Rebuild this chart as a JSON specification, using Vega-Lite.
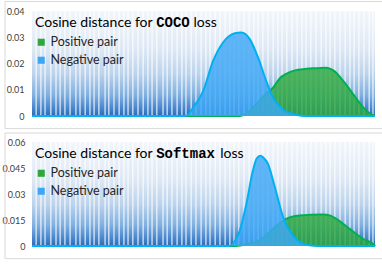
{
  "$schema": "https://vega.github.io/schema/vega-lite/v6.json",
  "padding": {"left": 1, "top": 1, "right": 1, "bottom": 3},
  "spacing": 26,
  "bounds": "flush",
  "config": {"view": {"stroke": null}, "font": "Lato", "axis": {"zindex": 1, "labelOverlap": false}},
  "datasets": {
    "curves": [
      {"panel": "COCO", "series": "Negative pair", "x": 0, "y": 0},
      {"panel": "COCO", "series": "Negative pair", "x": 0.449, "y": 0},
      {"panel": "COCO", "series": "Negative pair", "x": 0.469, "y": 0.003},
      {"panel": "COCO", "series": "Negative pair", "x": 0.499, "y": 0.0095},
      {"panel": "COCO", "series": "Negative pair", "x": 0.528, "y": 0.021},
      {"panel": "COCO", "series": "Negative pair", "x": 0.557, "y": 0.028},
      {"panel": "COCO", "series": "Negative pair", "x": 0.591, "y": 0.0315},
      {"panel": "COCO", "series": "Negative pair", "x": 0.61, "y": 0.0318},
      {"panel": "COCO", "series": "Negative pair", "x": 0.635, "y": 0.0293},
      {"panel": "COCO", "series": "Negative pair", "x": 0.659, "y": 0.0223},
      {"panel": "COCO", "series": "Negative pair", "x": 0.683, "y": 0.0133},
      {"panel": "COCO", "series": "Negative pair", "x": 0.703, "y": 0.007},
      {"panel": "COCO", "series": "Negative pair", "x": 0.732, "y": 0.0025},
      {"panel": "COCO", "series": "Negative pair", "x": 0.77, "y": 0.0005},
      {"panel": "COCO", "series": "Negative pair", "x": 0.799, "y": 0},
      {"panel": "COCO", "series": "Negative pair", "x": 1, "y": 0},
      {"panel": "COCO", "series": "Positive pair", "x": 0, "y": 0},
      {"panel": "COCO", "series": "Positive pair", "x": 0.606, "y": 0},
      {"panel": "COCO", "series": "Positive pair", "x": 0.63, "y": 0.0015},
      {"panel": "COCO", "series": "Positive pair", "x": 0.654, "y": 0.0044},
      {"panel": "COCO", "series": "Positive pair", "x": 0.68, "y": 0.0082},
      {"panel": "COCO", "series": "Positive pair", "x": 0.703, "y": 0.0108},
      {"panel": "COCO", "series": "Positive pair", "x": 0.722, "y": 0.0143},
      {"panel": "COCO", "series": "Positive pair", "x": 0.74, "y": 0.016},
      {"panel": "COCO", "series": "Positive pair", "x": 0.761, "y": 0.0172},
      {"panel": "COCO", "series": "Positive pair", "x": 0.8, "y": 0.018},
      {"panel": "COCO", "series": "Positive pair", "x": 0.83, "y": 0.0182},
      {"panel": "COCO", "series": "Positive pair", "x": 0.858, "y": 0.0184},
      {"panel": "COCO", "series": "Positive pair", "x": 0.873, "y": 0.0178},
      {"panel": "COCO", "series": "Positive pair", "x": 0.887, "y": 0.0165},
      {"panel": "COCO", "series": "Positive pair", "x": 0.9, "y": 0.0145},
      {"panel": "COCO", "series": "Positive pair", "x": 0.916, "y": 0.012},
      {"panel": "COCO", "series": "Positive pair", "x": 0.935, "y": 0.0085},
      {"panel": "COCO", "series": "Positive pair", "x": 0.955, "y": 0.005},
      {"panel": "COCO", "series": "Positive pair", "x": 0.975, "y": 0.002},
      {"panel": "COCO", "series": "Positive pair", "x": 0.994, "y": 0.0003},
      {"panel": "COCO", "series": "Positive pair", "x": 1, "y": 0},
      {"panel": "Softmax", "series": "Negative pair", "x": 0, "y": 0},
      {"panel": "Softmax", "series": "Negative pair", "x": 0.576, "y": 0},
      {"panel": "Softmax", "series": "Negative pair", "x": 0.592, "y": 0.003},
      {"panel": "Softmax", "series": "Negative pair", "x": 0.606, "y": 0.009},
      {"panel": "Softmax", "series": "Negative pair", "x": 0.625, "y": 0.0243},
      {"panel": "Softmax", "series": "Negative pair", "x": 0.644, "y": 0.0435},
      {"panel": "Softmax", "series": "Negative pair", "x": 0.655, "y": 0.0505},
      {"panel": "Softmax", "series": "Negative pair", "x": 0.666, "y": 0.052},
      {"panel": "Softmax", "series": "Negative pair", "x": 0.677, "y": 0.0505},
      {"panel": "Softmax", "series": "Negative pair", "x": 0.688, "y": 0.0474},
      {"panel": "Softmax", "series": "Negative pair", "x": 0.708, "y": 0.034},
      {"panel": "Softmax", "series": "Negative pair", "x": 0.732, "y": 0.0167},
      {"panel": "Softmax", "series": "Negative pair", "x": 0.761, "y": 0.006},
      {"panel": "Softmax", "series": "Negative pair", "x": 0.79, "y": 0.0013},
      {"panel": "Softmax", "series": "Negative pair", "x": 0.82, "y": 0.0002},
      {"panel": "Softmax", "series": "Negative pair", "x": 0.848, "y": 0},
      {"panel": "Softmax", "series": "Negative pair", "x": 1, "y": 0},
      {"panel": "Softmax", "series": "Positive pair", "x": 0, "y": 0},
      {"panel": "Softmax", "series": "Positive pair", "x": 0.595, "y": 0},
      {"panel": "Softmax", "series": "Positive pair", "x": 0.63, "y": 0.0012},
      {"panel": "Softmax", "series": "Positive pair", "x": 0.664, "y": 0.0032},
      {"panel": "Softmax", "series": "Positive pair", "x": 0.703, "y": 0.0099},
      {"panel": "Softmax", "series": "Positive pair", "x": 0.741, "y": 0.0157},
      {"panel": "Softmax", "series": "Positive pair", "x": 0.78, "y": 0.0176},
      {"panel": "Softmax", "series": "Positive pair", "x": 0.848, "y": 0.0182},
      {"panel": "Softmax", "series": "Positive pair", "x": 0.87, "y": 0.0175},
      {"panel": "Softmax", "series": "Positive pair", "x": 0.887, "y": 0.0157},
      {"panel": "Softmax", "series": "Positive pair", "x": 0.926, "y": 0.0099},
      {"panel": "Softmax", "series": "Positive pair", "x": 0.965, "y": 0.0042},
      {"panel": "Softmax", "series": "Positive pair", "x": 0.999, "y": 0.0003},
      {"panel": "Softmax", "series": "Positive pair", "x": 1, "y": 0}
    ],
    "stripes": [
      {"x": 0.012}, {"x": 0.026}, {"x": 0.038}, {"x": 0.055}, {"x": 0.07}, {"x": 0.082}, {"x": 0.096}, {"x": 0.111}, {"x": 0.128}, {"x": 0.14},
      {"x": 0.155}, {"x": 0.169}, {"x": 0.181}, {"x": 0.195}, {"x": 0.213}, {"x": 0.224}, {"x": 0.239}, {"x": 0.254}, {"x": 0.268}, {"x": 0.28},
      {"x": 0.294}, {"x": 0.309}, {"x": 0.324}, {"x": 0.338}, {"x": 0.35}, {"x": 0.364}, {"x": 0.382}, {"x": 0.394}, {"x": 0.408}, {"x": 0.423},
      {"x": 0.437}, {"x": 0.449}, {"x": 0.464}, {"x": 0.478}, {"x": 0.493}, {"x": 0.507}, {"x": 0.519}, {"x": 0.534}, {"x": 0.548}, {"x": 0.563},
      {"x": 0.577}, {"x": 0.589}, {"x": 0.603}, {"x": 0.618}, {"x": 0.633}, {"x": 0.647}, {"x": 0.659}, {"x": 0.673}, {"x": 0.688}, {"x": 0.703},
      {"x": 0.717}, {"x": 0.729}, {"x": 0.743}, {"x": 0.758}, {"x": 0.773}, {"x": 0.787}, {"x": 0.799}, {"x": 0.813}, {"x": 0.828}, {"x": 0.843},
      {"x": 0.857}, {"x": 0.869}, {"x": 0.883}, {"x": 0.898}, {"x": 0.913}, {"x": 0.927}, {"x": 0.939}, {"x": 0.953}, {"x": 0.968}, {"x": 0.983}, {"x": 0.994}
    ]
  },
  "resolve": {"scale": {"x": "independent", "y": "independent", "fill": "independent"}, "legend": {"fill": "independent"}},
  "vconcat": [
    {
      "width": 343,
      "height": 105,
      "layer": [
        {
          "data": {"values": [{}]},
          "mark": {"type": "rect", "clip": false, "filled": false, "stroke": "#d9d9d9", "strokeWidth": 1},
          "encoding": {
            "x": {"datum": -0.0787, "type": "quantitative", "scale": {"domain": [0, 1]}, "axis": null},
            "x2": {"datum": 1.0233},
            "y": {"datum": -0.0048, "type": "quantitative", "scale": {"domain": [0, 0.04]},
                  "axis": {"values": [0, 0.01, 0.02, 0.03, 0.04], "labelExpr": "format(datum.value, '~g')", "ticks": false, "domain": false, "grid": false, "labelPadding": 8, "labelFontSize": 9, "labelColor": "#404040", "labelFont": "Lato", "title": null, "labelOverlap": false}},
            "y2": {"datum": 0.0436}
          }
        },
        {
          "data": {"values": [{}]},
          "mark": {"type": "rect", "fill": {"gradient": "linear", "x1": 0, "y1": 0, "x2": 0, "y2": 1, "stops": [{"offset": 0, "color": "#f2f6fb"}, {"offset": 0.35, "color": "#dfe9f5"}, {"offset": 0.6, "color": "#bcd3ec"}, {"offset": 0.8, "color": "#80b0e0"}, {"offset": 0.92, "color": "#4a88cf"}, {"offset": 1, "color": "#2a6cb8"}]}},
          "encoding": {"x": {"datum": 0, "type": "quantitative"}, "x2": {"datum": 1}, "y": {"datum": 0, "type": "quantitative", "axis": {"values": [0, 0.01, 0.02, 0.03, 0.04], "labelExpr": "format(datum.value, '~g')", "ticks": false, "domain": false, "grid": false, "labelPadding": 8, "labelFontSize": 9, "labelColor": "#404040", "labelFont": "Lato", "title": null, "labelOverlap": false}}, "y2": {"datum": 0.04}}
        },
        {
          "data": {"name": "stripes"},
          "mark": {"type": "rule", "color": "white", "strokeWidth": 1.2, "opacity": 0.85},
          "encoding": {"x": {"field": "x", "type": "quantitative"}, "y": {"datum": 0, "type": "quantitative", "axis": {"values": [0, 0.01, 0.02, 0.03, 0.04], "labelExpr": "format(datum.value, '~g')", "ticks": false, "domain": false, "grid": false, "labelPadding": 8, "labelFontSize": 9, "labelColor": "#404040", "labelFont": "Lato", "title": null, "labelOverlap": false}}, "y2": {"datum": 0.04}}
        },
        {
          "data": {"name": "curves"},
          "transform": [{"filter": "datum.panel === 'COCO' && datum.series === 'Positive pair'"}],
          "mark": {"type": "area", "interpolate": "monotone", "fillOpacity": 0.82},
          "encoding": {
            "x": {"field": "x", "type": "quantitative"},
            "y": {"field": "y", "type": "quantitative", "stack": null, "axis": {"values": [0, 0.01, 0.02, 0.03, 0.04], "labelExpr": "format(datum.value, '~g')", "ticks": false, "domain": false, "grid": false, "labelPadding": 8, "labelFontSize": 9, "labelColor": "#404040", "labelFont": "Lato", "title": null, "labelOverlap": false}},
            "fill": {"field": "series", "type": "nominal", "scale": {"domain": ["Positive pair", "Negative pair"], "range": ["#2ea83e", "#3ea7f5"]},
                     "legend": {"orient": "none", "legendX": 3, "legendY": 25, "title": null, "symbolType": "square", "symbolSize": 50, "symbolOpacity": 1, "labelFontSize": 12.5, "labelFont": "Lato", "labelColor": "#262626", "labelOffset": 3, "rowPadding": 5, "symbolStrokeWidth": 0}}
          }
        },
        {
          "data": {"name": "curves"},
          "transform": [{"filter": "datum.panel === 'COCO' && datum.series === 'Positive pair'"}],
          "mark": {"type": "line", "interpolate": "monotone", "stroke": "#00b050", "strokeWidth": 2},
          "encoding": {"x": {"field": "x", "type": "quantitative"}, "y": {"field": "y", "type": "quantitative", "axis": {"values": [0, 0.01, 0.02, 0.03, 0.04], "labelExpr": "format(datum.value, '~g')", "ticks": false, "domain": false, "grid": false, "labelPadding": 8, "labelFontSize": 9, "labelColor": "#404040", "labelFont": "Lato", "title": null, "labelOverlap": false}}}
        },
        {
          "data": {"name": "curves"},
          "transform": [{"filter": "datum.panel === 'COCO' && datum.series === 'Negative pair'"}],
          "mark": {"type": "area", "interpolate": "monotone", "fillOpacity": 0.82},
          "encoding": {
            "x": {"field": "x", "type": "quantitative"},
            "y": {"field": "y", "type": "quantitative", "stack": null, "axis": {"values": [0, 0.01, 0.02, 0.03, 0.04], "labelExpr": "format(datum.value, '~g')", "ticks": false, "domain": false, "grid": false, "labelPadding": 8, "labelFontSize": 9, "labelColor": "#404040", "labelFont": "Lato", "title": null, "labelOverlap": false}},
            "fill": {"field": "series", "type": "nominal"}
          }
        },
        {
          "data": {"name": "curves"},
          "transform": [{"filter": "datum.panel === 'COCO' && datum.series === 'Negative pair'"}],
          "mark": {"type": "line", "interpolate": "monotone", "stroke": "#00b0f0", "strokeWidth": 2},
          "encoding": {"x": {"field": "x", "type": "quantitative"}, "y": {"field": "y", "type": "quantitative", "axis": {"values": [0, 0.01, 0.02, 0.03, 0.04], "labelExpr": "format(datum.value, '~g')", "ticks": false, "domain": false, "grid": false, "labelPadding": 8, "labelFontSize": 9, "labelColor": "#404040", "labelFont": "Lato", "title": null, "labelOverlap": false}}}
        },
        {
          "data": {"values": [{}]},
          "mark": {"type": "text", "text": "Cosine distance for", "align": "left", "baseline": "middle", "font": "Lato", "fontSize": 14, "color": "#000000"},
          "encoding": {"x": {"datum": 0.0087, "type": "quantitative"}, "y": {"datum": 0.0354, "type": "quantitative", "axis": {"values": [0, 0.01, 0.02, 0.03, 0.04], "labelExpr": "format(datum.value, '~g')", "ticks": false, "domain": false, "grid": false, "labelPadding": 8, "labelFontSize": 9, "labelColor": "#404040", "labelFont": "Lato", "title": null, "labelOverlap": false}}}
        },
        {
          "data": {"values": [{}]},
          "mark": {"type": "text", "text": "COCO", "align": "left", "baseline": "middle", "font": "Liberation Mono", "fontWeight": "bold", "fontSize": 14, "color": "#000000"},
          "encoding": {"x": {"datum": 0.362, "type": "quantitative"}, "y": {"datum": 0.0354, "type": "quantitative", "axis": {"values": [0, 0.01, 0.02, 0.03, 0.04], "labelExpr": "format(datum.value, '~g')", "ticks": false, "domain": false, "grid": false, "labelPadding": 8, "labelFontSize": 9, "labelColor": "#404040", "labelFont": "Lato", "title": null, "labelOverlap": false}}}
        },
        {
          "data": {"values": [{}]},
          "mark": {"type": "text", "text": "loss", "align": "left", "baseline": "middle", "font": "Lato", "fontSize": 14, "color": "#000000"},
          "encoding": {"x": {"datum": 0.471, "type": "quantitative"}, "y": {"datum": 0.0354, "type": "quantitative", "axis": {"values": [0, 0.01, 0.02, 0.03, 0.04], "labelExpr": "format(datum.value, '~g')", "ticks": false, "domain": false, "grid": false, "labelPadding": 8, "labelFontSize": 9, "labelColor": "#404040", "labelFont": "Lato", "title": null, "labelOverlap": false}}}
        }
      ]
    },
    {
      "width": 343,
      "height": 104,
      "layer": [
        {
          "data": {"values": [{}]},
          "mark": {"type": "rect", "clip": false, "filled": false, "stroke": "#d9d9d9", "strokeWidth": 1},
          "encoding": {
            "x": {"datum": -0.0787, "type": "quantitative", "scale": {"domain": [0, 1]}, "axis": null},
            "x2": {"datum": 1.0233},
            "y": {"datum": -0.0073, "type": "quantitative", "scale": {"domain": [0, 0.06]},
                  "axis": {"values": [0, 0.015, 0.03, 0.045, 0.06], "labelExpr": "format(datum.value, '~g')", "ticks": false, "domain": false, "grid": false, "labelPadding": 7, "labelFontSize": 9, "labelColor": "#404040", "labelFont": "Lato", "title": null, "labelOverlap": false}},
            "y2": {"datum": 0.0652}
          }
        },
        {
          "data": {"values": [{}]},
          "mark": {"type": "rect", "fill": {"gradient": "linear", "x1": 0, "y1": 0, "x2": 0, "y2": 1, "stops": [{"offset": 0, "color": "#f2f6fb"}, {"offset": 0.35, "color": "#dfe9f5"}, {"offset": 0.6, "color": "#bcd3ec"}, {"offset": 0.8, "color": "#80b0e0"}, {"offset": 0.92, "color": "#4a88cf"}, {"offset": 1, "color": "#2a6cb8"}]}},
          "encoding": {"x": {"datum": 0, "type": "quantitative"}, "x2": {"datum": 1}, "y": {"datum": 0, "type": "quantitative", "axis": {"values": [0, 0.015, 0.03, 0.045, 0.06], "labelExpr": "format(datum.value, '~g')", "ticks": false, "domain": false, "grid": false, "labelPadding": 7, "labelFontSize": 9, "labelColor": "#404040", "labelFont": "Lato", "title": null, "labelOverlap": false}}, "y2": {"datum": 0.06}}
        },
        {
          "data": {"name": "stripes"},
          "mark": {"type": "rule", "color": "white", "strokeWidth": 1.2, "opacity": 0.85},
          "encoding": {"x": {"field": "x", "type": "quantitative"}, "y": {"datum": 0, "type": "quantitative", "axis": {"values": [0, 0.015, 0.03, 0.045, 0.06], "labelExpr": "format(datum.value, '~g')", "ticks": false, "domain": false, "grid": false, "labelPadding": 7, "labelFontSize": 9, "labelColor": "#404040", "labelFont": "Lato", "title": null, "labelOverlap": false}}, "y2": {"datum": 0.06}}
        },
        {
          "data": {"name": "curves"},
          "transform": [{"filter": "datum.panel === 'Softmax' && datum.series === 'Positive pair'"}],
          "mark": {"type": "area", "interpolate": "monotone", "fillOpacity": 0.82},
          "encoding": {
            "x": {"field": "x", "type": "quantitative"},
            "y": {"field": "y", "type": "quantitative", "stack": null, "axis": {"values": [0, 0.015, 0.03, 0.045, 0.06], "labelExpr": "format(datum.value, '~g')", "ticks": false, "domain": false, "grid": false, "labelPadding": 7, "labelFontSize": 9, "labelColor": "#404040", "labelFont": "Lato", "title": null, "labelOverlap": false}},
            "fill": {"field": "series", "type": "nominal", "scale": {"domain": ["Positive pair", "Negative pair"], "range": ["#2ea83e", "#3ea7f5"]},
                     "legend": {"orient": "none", "legendX": 3, "legendY": 25, "title": null, "symbolType": "square", "symbolSize": 50, "symbolOpacity": 1, "labelFontSize": 12.5, "labelFont": "Lato", "labelColor": "#262626", "labelOffset": 3, "rowPadding": 5, "symbolStrokeWidth": 0}}
          }
        },
        {
          "data": {"name": "curves"},
          "transform": [{"filter": "datum.panel === 'Softmax' && datum.series === 'Positive pair'"}],
          "mark": {"type": "line", "interpolate": "monotone", "stroke": "#00b050", "strokeWidth": 2},
          "encoding": {"x": {"field": "x", "type": "quantitative"}, "y": {"field": "y", "type": "quantitative", "axis": {"values": [0, 0.015, 0.03, 0.045, 0.06], "labelExpr": "format(datum.value, '~g')", "ticks": false, "domain": false, "grid": false, "labelPadding": 7, "labelFontSize": 9, "labelColor": "#404040", "labelFont": "Lato", "title": null, "labelOverlap": false}}}
        },
        {
          "data": {"name": "curves"},
          "transform": [{"filter": "datum.panel === 'Softmax' && datum.series === 'Negative pair'"}],
          "mark": {"type": "area", "interpolate": "monotone", "fillOpacity": 0.82},
          "encoding": {
            "x": {"field": "x", "type": "quantitative"},
            "y": {"field": "y", "type": "quantitative", "stack": null, "axis": {"values": [0, 0.015, 0.03, 0.045, 0.06], "labelExpr": "format(datum.value, '~g')", "ticks": false, "domain": false, "grid": false, "labelPadding": 7, "labelFontSize": 9, "labelColor": "#404040", "labelFont": "Lato", "title": null, "labelOverlap": false}},
            "fill": {"field": "series", "type": "nominal"}
          }
        },
        {
          "data": {"name": "curves"},
          "transform": [{"filter": "datum.panel === 'Softmax' && datum.series === 'Negative pair'"}],
          "mark": {"type": "line", "interpolate": "monotone", "stroke": "#00b0f0", "strokeWidth": 2},
          "encoding": {"x": {"field": "x", "type": "quantitative"}, "y": {"field": "y", "type": "quantitative", "axis": {"values": [0, 0.015, 0.03, 0.045, 0.06], "labelExpr": "format(datum.value, '~g')", "ticks": false, "domain": false, "grid": false, "labelPadding": 7, "labelFontSize": 9, "labelColor": "#404040", "labelFont": "Lato", "title": null, "labelOverlap": false}}}
        },
        {
          "data": {"values": [{}]},
          "mark": {"type": "text", "text": "Cosine distance for", "align": "left", "baseline": "middle", "font": "Lato", "fontSize": 14, "color": "#000000"},
          "encoding": {"x": {"datum": 0.0087, "type": "quantitative"}, "y": {"datum": 0.0531, "type": "quantitative", "axis": {"values": [0, 0.015, 0.03, 0.045, 0.06], "labelExpr": "format(datum.value, '~g')", "ticks": false, "domain": false, "grid": false, "labelPadding": 7, "labelFontSize": 9, "labelColor": "#404040", "labelFont": "Lato", "title": null, "labelOverlap": false}}}
        },
        {
          "data": {"values": [{}]},
          "mark": {"type": "text", "text": "Softmax", "align": "left", "baseline": "middle", "font": "Liberation Mono", "fontWeight": "bold", "fontSize": 14, "color": "#000000"},
          "encoding": {"x": {"datum": 0.362, "type": "quantitative"}, "y": {"datum": 0.0531, "type": "quantitative", "axis": {"values": [0, 0.015, 0.03, 0.045, 0.06], "labelExpr": "format(datum.value, '~g')", "ticks": false, "domain": false, "grid": false, "labelPadding": 7, "labelFontSize": 9, "labelColor": "#404040", "labelFont": "Lato", "title": null, "labelOverlap": false}}}
        },
        {
          "data": {"values": [{}]},
          "mark": {"type": "text", "text": "loss", "align": "left", "baseline": "middle", "font": "Lato", "fontSize": 14, "color": "#000000"},
          "encoding": {"x": {"datum": 0.549, "type": "quantitative"}, "y": {"datum": 0.0531, "type": "quantitative", "axis": {"values": [0, 0.015, 0.03, 0.045, 0.06], "labelExpr": "format(datum.value, '~g')", "ticks": false, "domain": false, "grid": false, "labelPadding": 7, "labelFontSize": 9, "labelColor": "#404040", "labelFont": "Lato", "title": null, "labelOverlap": false}}}
        }
      ]
    }
  ]
}
